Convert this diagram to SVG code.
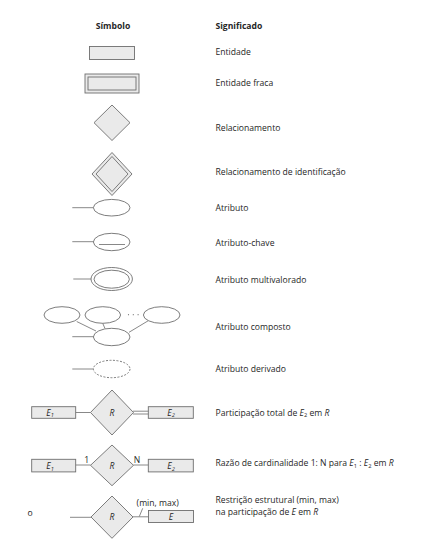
<svg xmlns="http://www.w3.org/2000/svg" width="432" height="559" viewBox="0 0 432 559">
<style>
.t{font-family:"Open Sans","Liberation Sans",sans-serif;font-size:8.6px;fill:#262626}
.h{font-weight:bold}
.i{font-style:italic}
.s{fill:#eaeaea;stroke:#6e6e6e;stroke-width:0.9}
.n{fill:none;stroke:#6e6e6e;stroke-width:0.9}
.l{fill:none;stroke:#7a7a7a;stroke-width:0.9}
</style>
<rect width="432" height="559" fill="#fff"/>
<text class="t h" x="113" y="29" text-anchor="middle">Símbolo</text>
<text class="t h" x="215.5" y="29">Significado</text>

<g id="entidade">
<rect class="s" x="89.5" y="46.5" width="45" height="13"/>
<text class="t" x="215.5" y="55">Entidade</text>
</g>
<g id="entidade-fraca">
<rect class="s" x="85" y="74" width="54" height="19"/>
<rect class="n" x="88" y="77" width="48" height="13"/>
<text class="t" x="215.5" y="86">Entidade fraca</text>
</g>
<g id="relacionamento">
<polygon class="s" points="112,105 130,122.7 112,140.5 94,122.7"/>
<text class="t" x="215.5" y="131">Relacionamento</text>
</g>
<g id="relacionamento-identificacao">
<polygon class="s" points="112,152.5 132,174 112,195.5 92,174"/>
<polygon class="n" points="112,156.5 128,174 112,191.5 96,174"/>
<text class="t" x="215.5" y="175">Relacionamento de identificação</text>
</g>
<g id="atributo">
<ellipse class="n" cx="111.7" cy="207.7" rx="18.3" ry="8.3"/>
<text class="t" x="215.5" y="211">Atributo</text>
</g>
<g id="atributo-chave">
<ellipse class="n" cx="111.7" cy="242" rx="18.3" ry="8.7"/>
<line class="l" x1="99" y1="244.5" x2="125" y2="244.5"/>
<text class="t" x="215.5" y="245.5">Atributo-chave</text>
</g>
<g id="atributo-multivalorado">
<ellipse class="n" cx="111.7" cy="279" rx="20.7" ry="11.5"/>
<ellipse class="n" cx="111.7" cy="279.2" rx="17.7" ry="9"/>
<text class="t" x="215.5" y="283">Atributo multivalorado</text>
</g>
<g id="atributo-composto">
<ellipse class="n" cx="62" cy="315" rx="18" ry="8.3"/>
<ellipse class="n" cx="102.8" cy="315" rx="17.8" ry="8.3"/>
<ellipse class="n" cx="161.7" cy="315" rx="18.3" ry="8.3"/>
<ellipse class="n" cx="111.7" cy="337" rx="18.3" ry="8.7"/>
<circle cx="128.5" cy="314.7" r="0.6" fill="#777"/>
<circle cx="133.3" cy="314.7" r="0.6" fill="#777"/>
<circle cx="138.1" cy="314.7" r="0.6" fill="#777"/>
<text class="t" x="215.5" y="329.5">Atributo composto</text>
</g>
<g id="atributo-derivado">
<ellipse class="n" cx="111.7" cy="369" rx="18.3" ry="8.7" stroke-dasharray="2,1.5"/>
<text class="t" x="215.5" y="372">Atributo derivado</text>
</g>

<g id="participacao-total">
<rect class="s" x="31.7" y="406.7" width="44" height="11.6"/>
<text class="t i" x="50" y="415.5" text-anchor="middle">E<tspan font-size="5.7" dy="1.8">1</tspan></text>
<polygon class="s" points="112,390 133.5,412.5 112,435 90.5,412.5"/>
<text class="t i" x="112" y="415.5" text-anchor="middle">R</text>
<rect class="s" x="148.3" y="406.7" width="45" height="11.6"/>
<text class="t i" x="171" y="415.5" text-anchor="middle">E<tspan font-size="5.7" dy="1.8">2</tspan></text>
<text class="t" x="215.5" y="415.5">Participação total de <tspan class="i">E</tspan><tspan font-size="5.7" dy="1.8">2</tspan><tspan dy="-1.8"> em </tspan><tspan class="i">R</tspan></text>
</g>
<g id="razao-cardinalidade">
<rect class="s" x="31.7" y="459.3" width="44" height="12.6"/>
<text class="t i" x="50" y="468.7" text-anchor="middle">E<tspan font-size="5.7" dy="1.8">1</tspan></text>
<polygon class="s" points="112,445 133.5,465.3 112,485.7 90.5,465.3"/>
<text class="t i" x="112" y="468.5" text-anchor="middle">R</text>
<rect class="s" x="148.3" y="459.3" width="45" height="12.6"/>
<text class="t i" x="171" y="468.7" text-anchor="middle">E<tspan font-size="5.7" dy="1.8">2</tspan></text>
<text class="t" x="86.7" y="463" text-anchor="middle">1</text>
<text class="t" x="137" y="463" text-anchor="middle">N</text>
<text class="t" x="215.5" y="466.3">Razão de cardinalidade 1: N para <tspan class="i">E</tspan><tspan font-size="5.7" dy="1.8">1</tspan><tspan dy="-1.8"> : </tspan><tspan class="i">E</tspan><tspan font-size="5.7" dy="1.8">2</tspan><tspan dy="-1.8"> em </tspan><tspan class="i">R</tspan></text>
</g>
<g id="restricao-estrutural">
<text class="t" x="30" y="515.5" text-anchor="middle">o</text>
<polygon class="s" points="112,496 133,517 112,538.3 91,517"/>
<text class="t i" x="112" y="520" text-anchor="middle">R</text>
<rect class="s" x="148.5" y="510.5" width="45" height="12"/>
<text class="t i" x="171" y="519.5" text-anchor="middle">E</text>
<text class="t" x="157.7" y="505.5" text-anchor="middle">(min, max)</text>
<text class="t" x="215.5" y="503">Restrição estrutural (min, max)</text>
<text class="t" x="215.5" y="514.8">na participação de <tspan class="i">E</tspan> em <tspan class="i">R</tspan></text>
</g>

<g id="conectores">
<line class="l" x1="72.3" y1="207.7" x2="93.4" y2="207.7"/>
<line class="l" x1="72.3" y1="241.7" x2="93.4" y2="241.7"/>
<line class="l" x1="73.3" y1="279" x2="91" y2="279"/>
<line class="l" x1="76.7" y1="321.5" x2="96" y2="331"/>
<line class="l" x1="102.7" y1="323.3" x2="105" y2="328.5"/>
<line class="l" x1="148.3" y1="320.7" x2="129" y2="332.3"/>
<line class="l" x1="72.3" y1="336.7" x2="93.4" y2="336.7"/>
<line class="l" x1="72.3" y1="369" x2="93.4" y2="369"/>
<line class="l" x1="75.7" y1="412.5" x2="90.5" y2="412.5"/>
<line class="l" x1="133" y1="411.2" x2="148.3" y2="411.2"/>
<line class="l" x1="133" y1="414" x2="148.3" y2="414"/>
<line class="l" x1="75.7" y1="465" x2="90.5" y2="465"/>
<line class="l" x1="133.5" y1="465" x2="148.3" y2="465"/>
<line class="l" x1="70" y1="517.3" x2="91" y2="517.3"/>
<line class="l" x1="133" y1="516.8" x2="148.5" y2="516.8"/>
<line class="l" x1="139.3" y1="516.5" x2="142.7" y2="508.3"/>
</g>
</svg>
